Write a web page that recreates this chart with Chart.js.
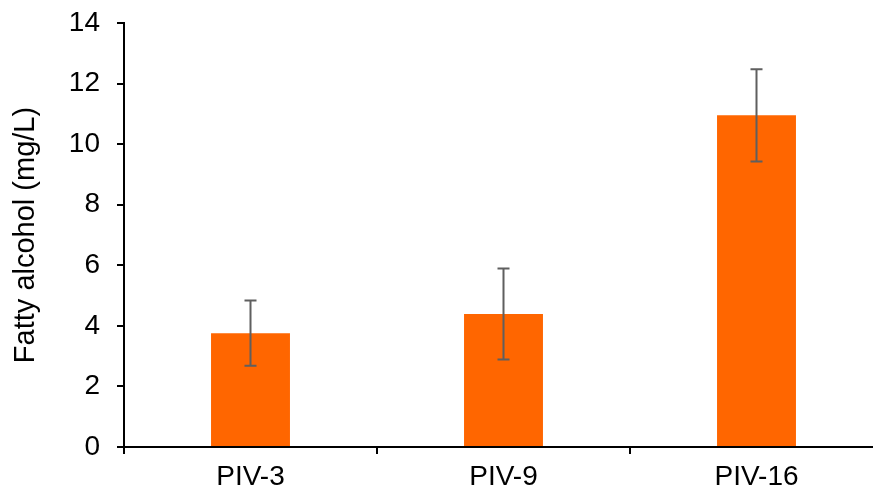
<!DOCTYPE html>
<html>
<head>
<meta charset="utf-8">
<script src="https://cdn.jsdelivr.net/npm/chart.js@4/dist/chart.umd.min.js"></script>
<style>
  html, body { margin: 0; padding: 0; background: #fff; overflow: hidden; }
  #wrap { position: absolute; left: 0; top: 0; width: 900px; height: 495px; }
</style>
</head>
<body>
<div id="wrap"><canvas id="grafico" width="900" height="495"></canvas></div>
<script>
// datos
const categorias = ["PIV-3", "PIV-9", "PIV-16"];
const valores = [3.76, 4.39, 10.95];
const errores = [1.08, 1.5, 1.52];
const ejeY = { min: 0, max: 14, paso: 2 };

const FUENTE = "'Liberation Sans', Arial, sans-serif";

// barras de error dibujadas con la escala Y
const barrasError = {
  id: "barrasError",
  afterDatasetsDraw(chart) {
    const ctx = chart.ctx;
    const meta = chart.getDatasetMeta(0);
    const y = chart.scales.y;
    ctx.save();
    ctx.strokeStyle = "#5f5f5f";
    ctx.lineWidth = 2;
    meta.data.forEach((bar, i) => {
      const x = bar.x;
      const arriba = y.getPixelForValue(valores[i] + errores[i]);
      const abajo = y.getPixelForValue(valores[i] - errores[i]);
      ctx.beginPath();
      ctx.moveTo(x, arriba); ctx.lineTo(x, abajo);
      ctx.moveTo(x - 6, arriba); ctx.lineTo(x + 6, arriba);
      ctx.moveTo(x - 6, abajo); ctx.lineTo(x + 6, abajo);
      ctx.stroke();
    });
    ctx.restore();
  }
};

new Chart(document.getElementById("grafico"), {
  type: "bar",
  data: {
    labels: categorias,
    datasets: [{
      data: valores,
      backgroundColor: "#ff6600",
      barPercentage: 0.312,
      categoryPercentage: 1
    }]
  },
  options: {
    responsive: false,
    animation: false,
    layout: { padding: { top: 23, right: 17, left: 0, bottom: 0 } },
    plugins: { legend: { display: false }, tooltip: { enabled: false } },
    scales: {
      x: {
        grid: { offset: true, drawOnChartArea: false, tickLength: 7, color: "#000", lineWidth: 2 },
        border: { color: "#000", width: 2 },
        ticks: { color: "#000", padding: 6, font: { family: FUENTE, size: 28 } },
        afterFit: s => { s.height = 48; s.paddingLeft = 0; s.paddingRight = 0; }
      },
      y: {
        min: ejeY.min,
        max: ejeY.max,
        ticks: { stepSize: ejeY.paso, color: "#000", padding: 17, font: { family: FUENTE, size: 28 } },
        grid: { drawOnChartArea: false, tickLength: 7, color: "#000", lineWidth: 2 },
        border: { color: "#000", width: 2 },
        title: {
          display: true,
          text: "Fatty alcohol (mg/L)",
          color: "#000",
          padding: { top: 9, bottom: 0 },
          font: { family: FUENTE, size: 29 }
        },
        afterFit: s => { s.width = 124; s.paddingTop = 0; s.paddingBottom = 0; }
      }
    }
  },
  plugins: [barrasError]
});
</script>
</body>
</html>
